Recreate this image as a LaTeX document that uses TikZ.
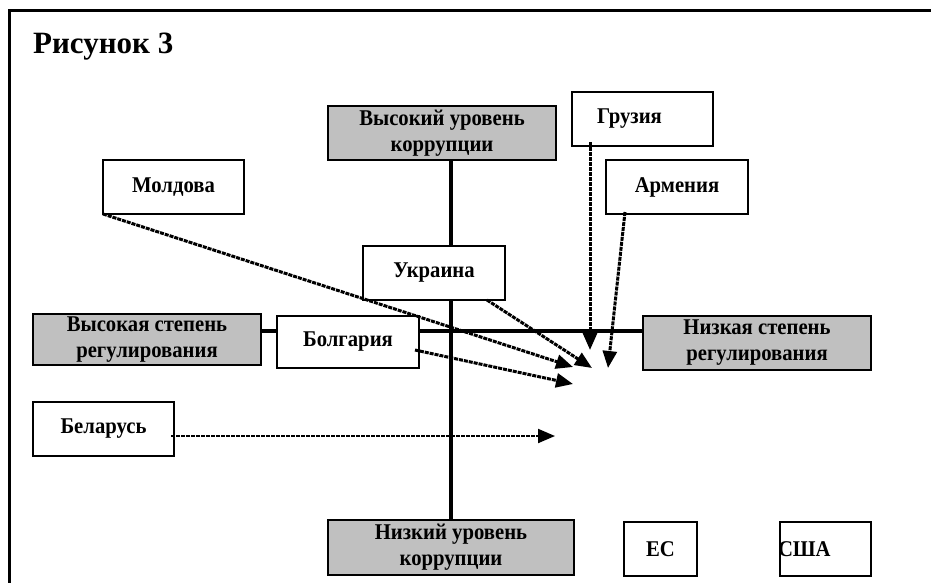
\documentclass[tikz,border=0pt]{standalone}
\usepackage{fontspec}
\setmainfont{Liberation Serif}[FakeStretch=0.92]
\newfontfamily\headfont{Liberation Serif}
\usepackage{xcolor}
\usetikzlibrary{arrows.meta,backgrounds}
\definecolor{boxgray}{RGB}{192,192,192}

\begin{document}
\begin{tikzpicture}[x=1pt,y=-1pt,
  >={Triangle[length=17pt,width=14pt]},
  box/.style={draw,line width=1.6pt,fill=white,inner sep=0pt,outer sep=0pt,
    align=center,font=\bfseries\fontsize{22.5}{26}\selectfont},
  graybox/.style={box,fill=boxgray},
  axisline/.style={line width=4pt},
  link/.style={->,line width=3pt,dash pattern=on 4pt off 1pt}]
  \clip (0,0) rectangle (931,582);
  % Title
  \node[anchor=base west,inner sep=0pt,font=\headfont\bfseries\fontsize{31}{36}\selectfont]
    (title) at (33,53) {Рисунок 3};
  % Axis ends
  \node[graybox,minimum width=228,minimum height=54] (hc) at (442,133)
    {Высокий уровень\\коррупции};
  \node[graybox,minimum width=246,minimum height=55] (lc) at (451,547.5)
    {Низкий уровень\\коррупции};
  \node[graybox,minimum width=228,minimum height=51] (hr) at (147,339.5)
    {Высокая степень\\регулирования};
  \node[graybox,minimum width=228,minimum height=54] (lr) at (757,343)
    {Низкая степень\\регулирования};
  % Countries
  \node[box,minimum width=141,minimum height=54,text width=141pt,align=left]
    (gz) at (642.5,119) {\hspace*{25pt}Грузия};
  \node[box,minimum width=141,minimum height=54] (md) at (173.5,187) {Молдова};
  \node[box,minimum width=142,minimum height=54] (am) at (677,187) {Армения};
  \node[box,minimum width=142,minimum height=54] (ua) at (434,273) {Украина};
  \node[box,minimum width=142,minimum height=52] (bg) at (348,342) {Болгария};
  \node[box,minimum width=141,minimum height=54] (by) at (103.5,429) {Беларусь};
  \node[box,minimum width=73,minimum height=54] (eu) at (660.5,549) {ЕС};
  \node[box,minimum width=91,minimum height=54,text width=91pt,align=left]
    (us) at (825.5,549) {\hspace*{-2pt}США};
  % Frame and axes behind the boxes
  \coordinate (O) at (451,331);
  \begin{scope}[on background layer]
    \draw[line width=3pt] (9,10) rectangle (945,600);
    \draw[axisline] (O |- hc.south) -- (O |- lc.north);
    \draw[axisline] (hr.east |- O) -- (lr.west |- O);
  \end{scope}
  % Arrow targets
  \coordinate (mdEnd) at (573,367);
  \coordinate (uaEnd) at (592,368);
  \coordinate (bgEnd) at (573,384);
  \coordinate (gzEnd) at (590,350);
  \coordinate (amEnd) at (608,368);
  \coordinate (byEnd) at (555,436);
  % Arrows
  \draw[link] (md.south west) -- (mdEnd);
  \draw[link] ([xshift=-18pt]ua.south east) -- (uaEnd);
  \draw[link] ([xshift=-4pt,yshift=-8pt]bg.east) -- (bgEnd);
  \draw[link] ([xshift=18pt,yshift=4pt]gz.south west) -- (gzEnd);
  \draw[link] ([xshift=19pt,yshift=2pt]am.south west) -- (amEnd);
  \draw[link,line width=2pt] ([xshift=-3pt,yshift=-7pt]by.east) -- (byEnd);
\end{tikzpicture}
\end{document}
